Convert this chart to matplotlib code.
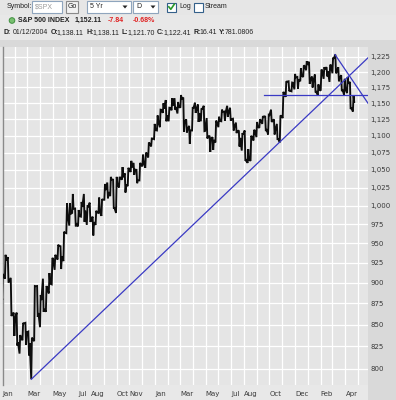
import matplotlib
matplotlib.use('Agg')
import matplotlib.pyplot as plt
import matplotlib.dates as mdates
from matplotlib.ticker import NullLocator
from matplotlib.patches import Rectangle, Circle, Polygon
import numpy as np
import pandas as pd

# ---------------- data ----------------
week_end = pd.date_range('2003-01-03', periods=121, freq='W-FRI')
week_high = [911, 935, 932, 906, 864, 864, 838, 852, 852, 842, 835, 896, 896, 885, 905, 896, 912, 931, 935, 948,
             946, 965, 1003, 1003, 1016, 996, 994, 1005, 1016, 999, 1004, 985, 993, 1011, 1009, 1030, 1032, 1040, 1036, 1040,
             1040, 1054, 1045, 1053, 1063, 1060, 1050, 1060, 1072, 1075, 1090, 1096, 1118, 1131, 1140, 1150, 1155, 1143, 1158, 1158,
             1152, 1163, 1159, 1125, 1115, 1144, 1151, 1148, 1142, 1146, 1127, 1100, 1098, 1123, 1129, 1140, 1137, 1146, 1143, 1126,
             1120, 1108, 1104, 1108, 1080, 1100, 1109, 1121, 1125, 1130, 1130, 1132, 1140, 1125, 1118, 1131, 1168, 1185, 1185, 1183,
             1197, 1192, 1206, 1211, 1218, 1217, 1193, 1196, 1180, 1204, 1208, 1208, 1212, 1224, 1229, 1208, 1195, 1189, 1192, 1184,
             1162]
week_low = [879, 905, 900, 860, 837, 826, 817, 832, 827, 815, 789, 831, 859, 847, 865, 865, 887, 898, 916, 929,
            917, 927, 963, 973, 990, 972, 972, 985, 978, 974, 978, 960, 974, 990, 986, 1008, 1010, 1013, 996, 990,
            1025, 1036, 1018, 1027, 1047, 1043, 1031, 1035, 1055, 1053, 1068, 1084, 1095, 1108, 1113, 1135, 1122, 1122, 1139, 1140,
            1134, 1143, 1106, 1105, 1088, 1108, 1135, 1121, 1122, 1107, 1096, 1076, 1079, 1090, 1113, 1122, 1123, 1129, 1123, 1108,
            1104, 1084, 1078, 1063, 1060, 1063, 1093, 1098, 1112, 1118, 1107, 1102, 1121, 1102, 1094, 1090, 1127, 1160, 1169, 1169,
            1172, 1173, 1185, 1192, 1203, 1181, 1175, 1167, 1163, 1170, 1189, 1193, 1184, 1198, 1198, 1185, 1169, 1163, 1166, 1141,
            1137]
week_close = [908.6, 927.6, 901.8, 861.4, 855.7, 829.7, 834.9, 851.2, 841.2, 828.9, 833.3, 895.8, 863.5, 878.9, 868.3,
              893.6, 898.8, 930.1, 933.4, 946.7, 933.2, 963.6, 987.8, 988.6, 995.7, 976.2, 985.7, 998.1, 993.3, 998.7,
              980.2, 977.6, 990.7, 993.1, 1008.0, 1021.4, 1018.6, 1036.3, 996.9, 1029.9, 1038.7, 1039.3, 1028.9, 1050.7,
              1053.2, 1050.4, 1035.3, 1058.2, 1061.5, 1074.1, 1088.7, 1095.9, 1108.5, 1121.9, 1139.8, 1141.6, 1131.1,
              1142.8, 1145.8, 1144.1, 1144.9, 1156.9, 1120.6, 1109.8, 1108.1, 1141.8, 1139.3, 1134.6, 1140.6, 1107.3,
              1098.7, 1095.7, 1093.6, 1120.7, 1122.5, 1136.5, 1135.0, 1134.4, 1125.4, 1112.8, 1106.7, 1096.8, 1101.7,
              1064.0, 1064.8, 1098.6, 1107.8, 1113.6, 1123.9, 1128.6, 1110.1, 1131.5, 1122.1, 1108.2, 1095.7, 1130.2,
              1166.2, 1184.2, 1170.3, 1182.7, 1191.2, 1188.0, 1194.2, 1210.1, 1211.9, 1186.2, 1184.5, 1167.9, 1171.4,
              1203.0, 1205.3, 1201.6, 1211.4, 1222.1, 1200.1, 1190.2, 1171.4, 1172.9, 1181.2, 1142.6, 1152.1]
prior_close = 879.8

y_ticks = [800, 825, 850, 875, 900, 925, 950, 975, 1000, 1025, 1050, 1075, 1100,
           1125, 1150, 1175, 1200, 1225]
x_label_months = ['2003-01', '2003-03', '2003-05', '2003-07', '2003-08', '2003-10', '2003-11',
                  '2004-01', '2004-03', '2004-05', '2004-07', '2004-08', '2004-10', '2004-12',
                  '2005-02', '2005-04']

# trendline anchors (date, price)
trend_up_dates = ['2003-03-11', '2004-10-25']
trend_up_vals = [788.9, 1090.2]
resist_start = '2004-09-18'
resist_val = 1163
trend_dn_dates = ['2005-03-07', '2005-05-25']
trend_dn_vals = [1229, 1150]

x_start, x_end = '2003-01-01', '2005-05-25'
y_min, y_max = 782.7, 1241.8

# ---------------- figure ----------------
W, H = 396, 400
fig = plt.figure(figsize=(W / 100, H / 100), dpi=100, facecolor='#e8e8e8')

hx = fig.add_axes([0, 0, 1, 1], zorder=0)
hx.set_xlim(0, W)
hx.set_ylim(H, 0)
hx.axis('off')

ax = fig.add_axes([2.5 / W, 1 - 385 / H, (368 - 2.5) / W, (385 - 47) / H], zorder=1)
ax.set_facecolor('#e5e5e5')
ax.set_yscale('log')
ax.set_ylim(y_min, y_max)
xs = mdates.date2num(pd.Timestamp(x_start))
xe = mdates.date2num(pd.Timestamp(x_end))
ax.set_xlim(xs, xe)

# price path: per week, through the two extremes then the close
fri = mdates.date2num(week_end)
px, py = [fri[0] - 2.5], [prior_close]
prev = prior_close
for f, h, l, c in zip(fri, week_high, week_low, week_close):
    first, second = (l, h) if c >= prev else (h, l)
    px += [f - 3.2, f - 1.6, f]
    py += [first, second, c]
    prev = c
ax.plot(px, py, color='#0d0d0d', lw=1.35, solid_joinstyle='miter', zorder=3)

# trendlines
blue = '#3a3ac4'
tu = mdates.date2num(pd.to_datetime(trend_up_dates))
slope = (np.log(trend_up_vals[1]) - np.log(trend_up_vals[0])) / (tu[1] - tu[0])
end_val = np.exp(np.log(trend_up_vals[0]) + slope * (xe - tu[0]))
ax.plot([tu[0], xe], [trend_up_vals[0], end_val], color=blue, lw=0.9, zorder=4)
ax.plot([mdates.date2num(pd.Timestamp(resist_start)), xe], [resist_val, resist_val], color=blue, lw=0.9, zorder=4)
td = mdates.date2num(pd.to_datetime(trend_dn_dates))
ax.plot(td, trend_dn_vals, color=blue, lw=0.9, zorder=4)

# axes styling
ax.yaxis.tick_right()
ax.set_yticks(y_ticks)
ax.set_yticklabels([f"{v:,}" for v in y_ticks])
ax.yaxis.set_minor_locator(NullLocator())
ax.tick_params(axis='y', length=0, pad=1.5, labelsize=5, labelcolor='#3a3a3a')

months = pd.date_range('2003-01-01', '2005-05-01', freq='MS')
ax.set_xticks(mdates.date2num(months))
ax.set_xticklabels([m.strftime('%b') if m.strftime('%Y-%m') in x_label_months else '' for m in months],
                   ha='left')
ax.xaxis.set_minor_locator(NullLocator())
ax.tick_params(axis='x', length=0, pad=4, labelsize=5, labelcolor='#3a3a3a')
ax.grid(True, color='white', lw=0.9, zorder=1)
ax.set_axisbelow(True)
for s in ['top', 'right', 'bottom']:
    ax.spines[s].set_visible(False)
ax.spines['left'].set_color('#8a8a8a')
ax.spines['left'].set_linewidth(1.0)

# ---------------- chrome ----------------
hx.add_patch(Rectangle((0, 0), W, 15, fc='#e6e6e6', ec='none'))
hx.add_patch(Rectangle((0, 40), W, 7, fc='#d9d9d9', ec='none'))
hx.add_patch(Rectangle((368, 47), W - 368, H - 47, fc='#d9d9d9', ec='none'))

fnt = 'Liberation Sans'
tc = '#222222'
hx.text(7, 7, 'Symbol:', fontsize=5, family=fnt, color=tc, va='center', ha='left')
hx.add_patch(Rectangle((32, 0.5), 30, 12.5, fc='white', ec='#8fa5bd', lw=0.8))
hx.text(35, 7, r'\$SPX', fontsize=5, family=fnt, color='#9a9a9a', va='center', ha='left')
hx.add_patch(Rectangle((66, 1), 12, 12, fc='#f2f2f2', ec='#8a8a8a', lw=0.8))
hx.text(72, 7, 'Go', fontsize=5, family=fnt, color=tc, va='center', ha='center')
hx.add_patch(Rectangle((87, 1), 44, 12, fc='white', ec='#8fa5bd', lw=0.8))
hx.text(90, 7, '5 Yr', fontsize=5, family=fnt, color=tc, va='center', ha='left')
hx.add_patch(Polygon([[122.5, 5.5], [127.5, 5.5], [125, 8.5]], closed=True, fc='#222', ec='none'))
hx.add_patch(Rectangle((133, 1), 25, 12, fc='white', ec='#8fa5bd', lw=0.8))
hx.text(136, 7, 'D', fontsize=5, family=fnt, color=tc, va='center', ha='left')
hx.add_patch(Polygon([[150.5, 5.5], [155.5, 5.5], [153, 8.5]], closed=True, fc='#222', ec='none'))
hx.add_patch(Rectangle((167, 2.5), 9, 9, fc='white', ec='#34608a', lw=0.8))
hx.plot([168.8, 170.8, 174.3], [6.8, 9.3, 4.2], color='#2a9a2a', lw=1.2)
hx.text(179, 7, 'Log', fontsize=5, family=fnt, color=tc, va='center', ha='left')
hx.add_patch(Rectangle((194, 2.5), 9, 9, fc='white', ec='#34608a', lw=0.8))
hx.text(205, 7, 'Stream', fontsize=5, family=fnt, color=tc, va='center', ha='left')

renderer = fig.canvas.get_renderer()


def seq(x, y, pieces):
    for s, kw, gap in pieces:
        t = hx.text(x, y, s, va='center', ha='left', family=fnt, **kw)
        bb = t.get_window_extent(renderer=renderer)
        x += bb.width + gap
    return x


hx.add_patch(Circle((12, 20.5), 2.8, fc='#78c070', ec='#3f8f3f', lw=0.7))
b = dict(fontsize=5, fontweight='bold', color=tc)
r = dict(fontsize=5, fontweight='bold', color='#e02020')
hx.text(18, 20.5, 'S&P 500 INDEX', va='center', ha='left', family=fnt, **b)
hx.text(75, 20.5, '1,152.11', va='center', ha='left', family=fnt, **b)
hx.text(108, 20.5, '-7.84', va='center', ha='left', family=fnt, **r)
hx.text(133, 20.5, '-0.68%', va='center', ha='left', family=fnt, **r)

fb = dict(fontsize=5, fontweight='bold', color=tc)
fn = dict(fontsize=5, color=tc)
seq(3, 33, [('D:', fb, 2.5), ('01/12/2004', fn, 2.5), ('O:', fb, -1.2), ('1,138.11', fn, 2.5),
            ('H:', fb, -1.2), ('1,138.11', fn, 2.5), ('L:', fb, -1.2), ('1,121.70', fn, 2.5),
            ('C:', fb, -1.2), ('1,122.41', fn, 2.5), ('R:', fb, -1.2), ('16.41', fn, 2.5),
            ('Y:', fb, -1.2), ('781.0806', fn, 0)])

fig.savefig('out.png', dpi=100, facecolor=fig.get_facecolor())
